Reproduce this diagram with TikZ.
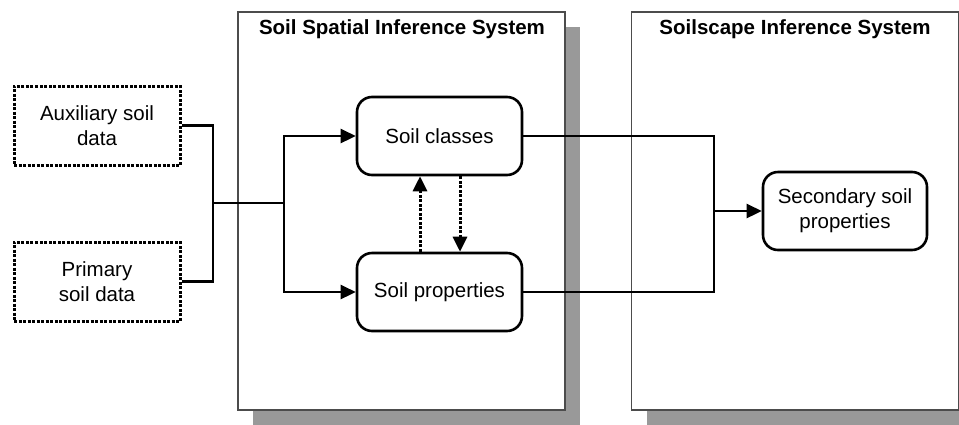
\documentclass[tikz,border=0pt]{standalone}
\usepackage{fontspec}
\setmainfont{Liberation Sans}
\usepackage{tikz}
\usetikzlibrary{arrows.meta,positioning,shadows}
\tikzset{system node/.style={rectangle, draw=black!70, line width=1.4pt, fill=white,
    minimum width=327pt, minimum height=398pt, inner sep=0pt,
    drop shadow={shadow xshift=15pt, shadow yshift=-15pt, fill=black!40, opacity=1}}}
\tikzset{title node/.style={font=\fontsize{20.5}{24}\selectfont\bfseries, inner sep=0pt}}
\tikzset{soil node/.style={rectangle, draw, rounded corners=15pt, line width=2.6pt,
    minimum width=165pt, minimum height=78pt, align=center, fill=white,
    font=\fontsize{20.5}{25}\selectfont}}
\tikzset{data node/.style={soil node, rounded corners=0pt, minimum width=166pt, minimum height=79pt,
    line width=3pt, dash pattern=on 3pt off 1.5pt}}
\tikzset{regular edge/.style={draw, line width=2.6pt}}
\tikzset{flow edge/.style={regular edge, -{Triangle[length=15pt, width=14pt]}}}
\tikzset{feedback edge/.style={flow edge, line width=3pt, dash pattern=on 3pt off 1.5pt}}

\begin{document}
\begin{tikzpicture}[x=1pt, y=-1pt]
  \useasboundingbox (0,0) rectangle (959,424);
  \node [system node] (spatial)   at (401.5, 211) {};
  \node [system node] (soilscape) at (795, 211) {};
  \node [title node] at (402, 29) {Soil Spatial Inference System};
  \node [title node] at (795, 29) {Soilscape Inference System};

  \node [data node] (aux)     at ( 97, 125.5) {Auxiliary soil\\data};
  \node [data node] (primary) at ( 97, 281.5) {Primary\\soil data};
  \node [soil node] (classes) at (439.5, 136) {Soil classes};
  \node [soil node] (props)   at (439.5, 292) {Soil properties};
  \node [soil node, minimum width=164pt] (second) at (845, 211) {Secondary soil\\properties};

  \coordinate (join)  at (213, 203);
  \coordinate (split) at (284, 203);
  \coordinate (merge) at (714, 211);

  \draw [regular edge] (aux.east) -| (join);
  \draw [regular edge] (primary.east) -| (join);
  \draw [regular edge] (join) -- (split);
  \draw [flow edge] (split) |- (classes.west);
  \draw [flow edge] (split) |- (props.west);
  \draw [feedback edge] ([xshift=-19.5pt]props.north) -- ([xshift=-19.5pt]classes.south);
  \draw [feedback edge] ([xshift=20.5pt]classes.south) -- ([xshift=20.5pt]props.north);
  \draw [regular edge] (classes.east) -| (merge);
  \draw [regular edge] (props.east) -| (merge);
  \draw [flow edge] (merge) -- (second.west);
\end{tikzpicture}
\end{document}
